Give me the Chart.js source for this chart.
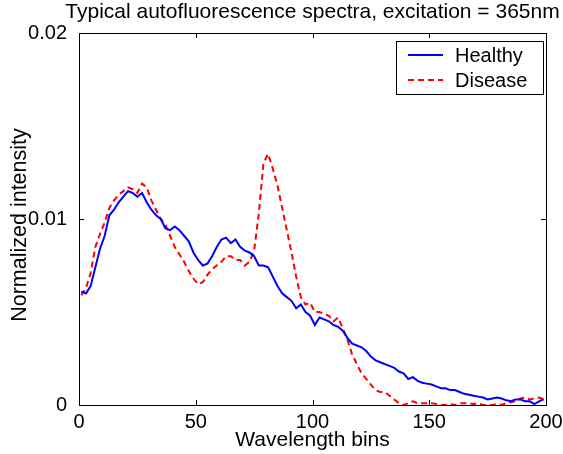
<!DOCTYPE html>
<html>
<head>
<meta charset="utf-8">
<script src="https://cdn.jsdelivr.net/npm/chart.js@4.4.0/dist/chart.umd.min.js"></script>
<style>
html,body{margin:0;padding:0;background:#fff;}
canvas{display:block;}
</style>
</head>
<body>
<canvas id="c" width="563" height="454"></canvas>
<script>
// Wavelength bin positions
const bins = [1,3,5,7,9,11,13,15,17,19,21,23,25,27,29,31,33,35,37,39,
  41,43,45,47,49,51,53,55,57,59,61,63,65,67,69,71,73,75,77,79,
  81,83,85,87,89,91,93,95,97,99,101,103,105,107,109,111,113,115,117,119,
  121,123,125,127,129,131,133,135,137,139,141,143,145,147,149,151,153,155,157,159,
  161,163,165,167,169,171,173,175,177,179,181,183,185,187,189,191,193,195,197,199];

const healthy = [0.0061,0.0060,0.0064,0.0074,0.0084,0.0091,0.0102,0.0105,0.0109,0.0112,
  0.0115,0.0114,0.0112,0.0114,0.0109,0.0105,0.0102,0.0100,0.0095,0.0094,
  0.0096,0.0094,0.0091,0.0088,0.0082,0.0078,0.0075,0.0076,0.0080,0.0085,
  0.0089,0.0090,0.0087,0.0089,0.0085,0.0083,0.0082,0.0080,0.0075,0.0075,
  0.0074,0.0069,0.0064,0.0060,0.0058,0.0056,0.0052,0.0054,0.0050,0.0048,
  0.0043,0.0047,0.0046,0.0045,0.0043,0.0042,0.0040,0.0036,0.0033,0.0032,
  0.0031,0.0029,0.0026,0.0024,0.0023,0.0022,0.0021,0.0020,0.0018,0.0017,
  0.0014,0.0015,0.0013,0.0012,0.00115,0.0011,0.0010,0.0009,0.0009,0.0008,
  0.0008,0.0007,0.0006,0.00055,0.0005,0.00045,0.0004,0.0003,0.00035,0.0004,
  0.00035,0.00025,0.0002,0.0003,0.0003,0.0002,0.0002,0.00005,0.0002,0.0003];

const disease = [0.0059,0.0063,0.0071,0.0085,0.0092,0.0098,0.0106,0.0110,0.0113,0.0115,
  0.0117,0.0116,0.0114,0.0119,0.0117,0.0110,0.0105,0.0100,0.0097,0.0091,
  0.0085,0.0081,0.0077,0.0072,0.0068,0.0065,0.0066,0.0070,0.0073,0.0075,
  0.0077,0.0080,0.0080,0.0078,0.0078,0.0075,0.0077,0.0083,0.0103,0.0130,
  0.0135,0.0127,0.0118,0.0106,0.0094,0.0082,0.0069,0.0058,0.0054,0.0055,
  0.0050,0.0050,0.0049,0.0048,0.0045,0.0047,0.0041,0.0035,0.0027,0.0022,
  0.0017,0.0014,0.0011,0.0008,0.0007,0.0007,0.0005,0.0003,0.0001,0.0000,
  0.0001,0.0002,0.0001,0.0001,0.0001,0.0001,0.00005,0.0000,0.0000,0.00005,
  0.0000,0.0001,0.0001,0.0001,0.00005,0.0001,0.0000,0.0000,0.0000,0.00005,
  0.0000,0.0001,0.00015,0.0002,0.00035,0.0004,0.0003,0.00035,0.0004,0.0003];

const xTicks = [0,50,100,150,200];
const yTicks = [0,0.01,0.02];
const yTickLabels = ['0','0.01','0.02'];

const titleText = 'Typical autofluorescence spectra, excitation = 365nm';
const xTitle = 'Wavelength bins';
const yTitle = 'Normalized intensity';
const seriesNames = ['Healthy','Disease'];

const FAMILY = '"Liberation Sans", Arial, sans-serif';

const toPts = ys => bins.map((x,i)=>({x:x, y:ys[i]}));

const decor = {
  id:'decor',
  afterDraw(chart){
    const ctx = chart.ctx;
    const a = chart.chartArea;
    const xs = chart.scales.x, ys = chart.scales.y;
    ctx.save();
    ctx.strokeStyle = '#000';
    ctx.lineWidth = 1;
    ctx.strokeRect(Math.round(a.left)+0.5, Math.round(a.top)+0.5, Math.round(a.right-a.left), Math.round(a.bottom-a.top));
    const tl = 5;
    ctx.beginPath();
    xTicks.forEach(v=>{
      const p = Math.round(xs.getPixelForValue(v))+0.5;
      ctx.moveTo(p, a.bottom); ctx.lineTo(p, a.bottom-tl);
      ctx.moveTo(p, a.top); ctx.lineTo(p, a.top+tl);
    });
    yTicks.forEach(v=>{
      const p = Math.round(ys.getPixelForValue(v))+0.5;
      ctx.moveTo(a.left, p); ctx.lineTo(a.left+tl, p);
      ctx.moveTo(a.right, p); ctx.lineTo(a.right-tl, p);
    });
    ctx.stroke();

    ctx.fillStyle = '#000';
    ctx.font = '21px ' + FAMILY;
    ctx.textAlign = 'center';
    ctx.textBaseline = 'middle';
    ctx.fillText(titleText, (a.left+a.right)/2, 12);
    ctx.fillText(xTitle, (a.left+a.right)/2, 440);
    ctx.save();
    ctx.font = '21.5px ' + FAMILY;
    ctx.translate(20, 225);
    ctx.rotate(-Math.PI/2);
    ctx.fillText(yTitle, 0, 0);
    ctx.restore();

    // legend
    ctx.font = '20px ' + FAMILY;
    const lx = 396, ly = 41, lw = 147, lh = 53;
    ctx.fillStyle = '#fff';
    ctx.fillRect(lx, ly, lw, lh);
    ctx.strokeStyle = '#000';
    ctx.lineWidth = 1;
    ctx.strokeRect(lx+0.5, ly+0.5, lw, lh);
    const ds = chart.data.datasets;
    const rows = [55, 80];
    ds.forEach((d,i)=>{
      ctx.beginPath();
      ctx.strokeStyle = d.borderColor;
      ctx.lineWidth = 2;
      ctx.setLineDash(d.borderDash || []);
      ctx.moveTo(408, rows[i]); ctx.lineTo(443, rows[i]);
      ctx.stroke();
      ctx.setLineDash([]);
      ctx.fillStyle = '#000';
      ctx.textAlign = 'left';
      ctx.textBaseline = 'middle';
      ctx.fillText(d.label, 455, rows[i]+1);
    });
    ctx.restore();
  }
};

new Chart(document.getElementById('c'), {
  type:'line',
  data:{
    datasets:[
      {label:seriesNames[0], data:toPts(healthy), borderColor:'#0000ff', borderWidth:2, pointRadius:0, tension:0, fill:false},
      {label:seriesNames[1], data:toPts(disease), borderColor:'#ff0000', borderWidth:2, borderDash:[6,4], pointRadius:0, tension:0, fill:false}
    ]
  },
  options:{
    responsive:false,
    animation:false,
    devicePixelRatio:1,
    layout:{padding:{left:0, top:33, right:17, bottom:0}},
    plugins:{legend:{display:false}, title:{display:false}, tooltip:{enabled:false}},
    scales:{
      x:{
        type:'linear', min:0, max:200,
        grid:{display:false}, border:{display:false},
        ticks:{stepSize:50, maxRotation:0, autoSkip:false, color:'#000', padding:-3, font:{family:FAMILY, size:20}},
        afterFit(s){ s.height = 49; s.paddingLeft = 0; s.paddingRight = 0; }
      },
      y:{
        min:0, max:0.02,
        grid:{display:false}, border:{display:false},
        ticks:{stepSize:0.01, color:'#000', padding:4, font:{family:FAMILY, size:20},
          callback:(v)=>{ const i = yTicks.findIndex(t=>Math.abs(t-v)<1e-9); return i>=0 ? yTickLabels[i] : ''; }},
        afterFit(s){ s.width = 79; s.paddingTop = 0; s.paddingBottom = 0; }
      }
    }
  },
  plugins:[decor]
});
</script>
</body>
</html>
